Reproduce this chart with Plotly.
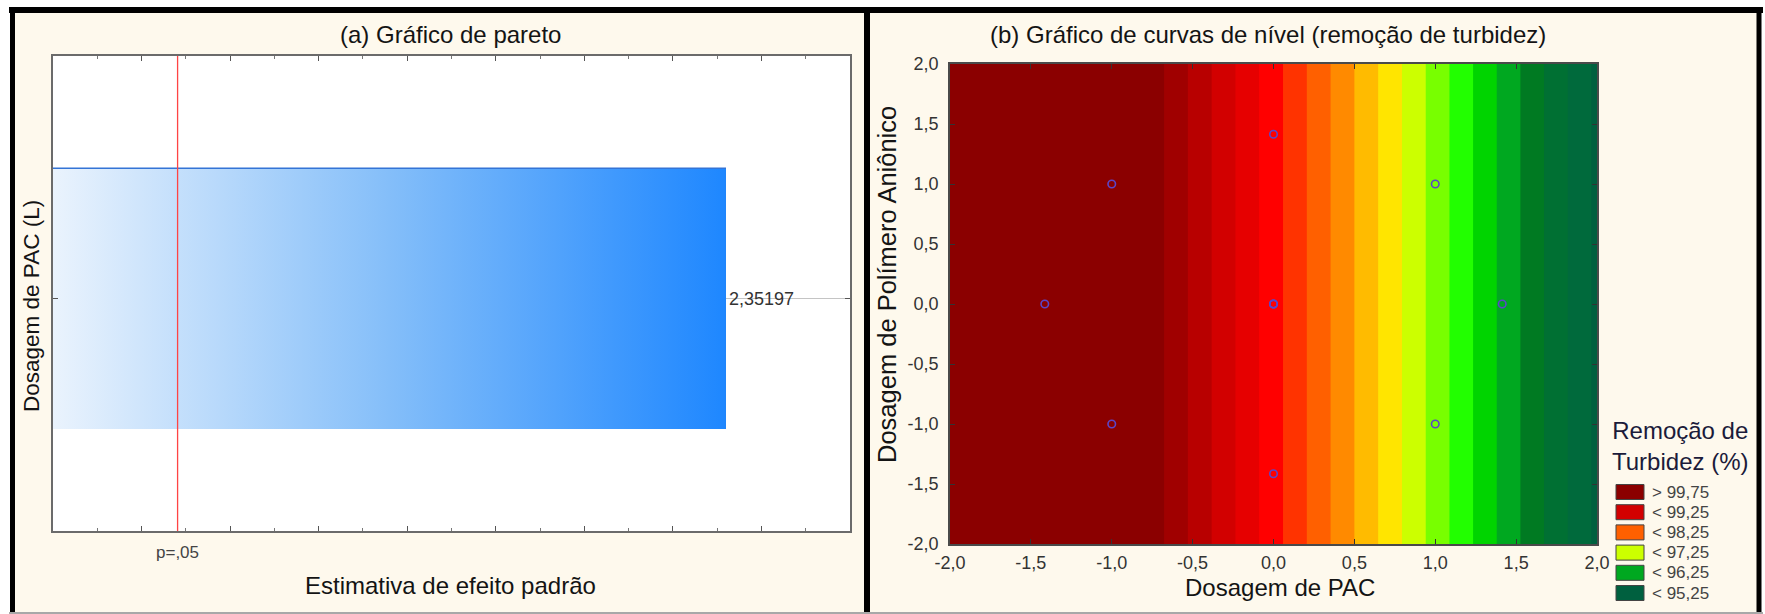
import plotly.graph_objects as go

W, H = 1765, 614
FONT = "Liberation Sans, Arial, sans-serif"
PANEL_BG = "#FEF9ED"

# ---- (a) Pareto chart of standardized effects ----
effect_names = ["Dosagem de PAC (L)"]
effect_values = [2.35197]
t_critical = 2.228139          # t(0.975; 10 df)
p_label = "p=,05"
pareto_x_range = [2.2, 2.38]

# ---- (b) contour plot: turbidity removal (%) ----
pac_dose = [-2.0, -1.0, 0.0, 1.0, 2.0]
polymer_dose = [-2.0, 2.0]
removal = [102.01, 100.30, 98.60, 96.90, 95.19]   # constant along polymer dose

design_pac = [-1.0, 1.0, -1.0, 1.0, -1.414, 1.414, 0.0, 0.0, 0.0, 0.0, 0.0]
design_polymer = [-1.0, -1.0, 1.0, 1.0, 0.0, 0.0, -1.414, 1.414, 0.0, 0.0, 0.0]

level_start, level_end, level_step = 95.25, 99.75, 0.25
# one colour per band, from the lowest (< 95,25) to the highest (> 99,75)
band_colors = [
    "#00603F", "#006A3C", "#007033", "#007A22", "#00A820", "#00D400",
    "#22FF00", "#78FF00", "#CCFF00", "#FFE500", "#FFBB00", "#FF8A00",
    "#FF6000", "#FF3300", "#FF0000", "#E60000", "#D20000", "#B80000",
    "#A00000", "#8B0000",
]
legend_labels = ["> 99,75", "< 99,25", "< 98,25", "< 97,25", "< 96,25", "< 95,25"]
legend_band_index = [19, 16, 12, 8, 4, 0]

axis_ticks = [-2.0, -1.5, -1.0, -0.5, 0.0, 0.5, 1.0, 1.5, 2.0]
axis_ticktext = ["-2,0", "-1,5", "-1,0", "-0,5", "0,0", "0,5", "1,0", "1,5", "2,0"]


def px(x):
    return x / W


def py(y):
    return 1 - y / H


fig = go.Figure()

# gradient body of the Pareto bar (from the axis start to the effect value)
x_lo = pareto_x_range[0]
bar_width = 1.095
for name, val in zip(effect_names, effect_values):
    fig.add_trace(go.Scatter(
        x=[x_lo, val, val, x_lo, x_lo],
        y=[-bar_width / 2, -bar_width / 2, bar_width / 2, bar_width / 2, -bar_width / 2],
        mode="lines", fill="toself", line=dict(width=0),
        fillgradient=dict(type="horizontal", start=x_lo, stop=val,
                          colorscale=[[0, "#EAF3FD"], [0.5, "#84BEF9"], [1, "#1E87FF"]]),
        hoverinfo="skip", showlegend=False, xaxis="x", yaxis="y",
    ))
fig.add_trace(go.Bar(
    x=effect_values, y=[0], orientation="h", width=bar_width,
    marker=dict(color="rgba(0,0,0,0)", line=dict(color="#3474D6", width=1.5)),
    hoverinfo="skip", showlegend=False, xaxis="x", yaxis="y",
))

# contour map
fig.add_trace(go.Contour(
    x=pac_dose, y=polymer_dose, z=[removal for _ in polymer_dose],
    autocontour=False,
    contours=dict(start=level_start, end=level_end, size=level_step,
                  coloring="fill", showlines=False),
    colorscale=[[k / (len(band_colors) - 1), c] for k, c in enumerate(band_colors)],
    line=dict(width=0), showscale=False, hoverinfo="skip",
    xaxis="x2", yaxis="y2",
))
fig.add_trace(go.Scatter(
    x=design_pac, y=design_polymer, mode="markers",
    marker=dict(symbol="circle-open", size=7.5, color="#5B46C8", line=dict(width=1.6)),
    hoverinfo="skip", showlegend=False, xaxis="x2", yaxis="y2",
))

shapes = [
    # white strips outside the frame
    dict(type="rect", xref="paper", yref="paper", x0=0, x1=1, y0=py(7), y1=1,
         fillcolor="#FFFFFF", line=dict(width=0), layer="below"),
    dict(type="rect", xref="paper", yref="paper", x0=0, x1=px(10), y0=0, y1=1,
         fillcolor="#FFFFFF", line=dict(width=0), layer="below"),
    dict(type="rect", xref="paper", yref="paper", x0=px(1761), x1=1, y0=0, y1=1,
         fillcolor="#FFFFFF", line=dict(width=0), layer="below"),
    # panel frame
    dict(type="line", xref="paper", yref="paper", x0=px(9), x1=px(1763), y0=py(10), y1=py(10),
         line=dict(color="#000000", width=6), layer="below"),
    dict(type="line", xref="paper", yref="paper", x0=px(12.5), x1=px(12.5), y0=py(614), y1=py(7),
         line=dict(color="#000000", width=5), layer="below"),
    dict(type="line", xref="paper", yref="paper", x0=px(867), x1=px(867), y0=py(614), y1=py(7),
         line=dict(color="#000000", width=6), layer="below"),
    dict(type="line", xref="paper", yref="paper", x0=px(1759), x1=px(1759), y0=py(614), y1=py(7),
         line=dict(color="#000000", width=5), layer="below"),
    dict(type="line", xref="paper", yref="paper", x0=px(9), x1=px(1763), y0=py(613), y1=py(613),
         line=dict(color="#A8A8A8", width=2), layer="below"),
    # p = 0.05 reference line
    dict(type="line", xref="x", yref="y domain", x0=t_critical, x1=t_critical, y0=0, y1=1,
         line=dict(color="#FF4444", width=1.3), layer="above"),
]

annotations = [
    dict(text="(a) Gráfico de pareto", x=px(450), y=py(34)),
    dict(text="(b) Gráfico de curvas de nível (remoção de turbidez)", x=px(1268), y=py(34)),
    dict(text="Estimativa de efeito padrão", x=px(450), y=py(585)),
    dict(text=effect_names[0], x=px(31), y=py(306), textangle=-90, size=22.5),
    dict(text="Dosagem de PAC", x=px(1280), y=py(587)),
    dict(text="Dosagem de Polímero Aniônico", x=px(887), y=py(285), textangle=-90, size=25.5),
    dict(text="Remoção de<br>Turbidez (%)", x=px(1680), y=py(446), color="#1B1B3A"),
]
annotations = [
    dict(text=a["text"], x=a["x"], y=a["y"], xref="paper", yref="paper",
         xanchor="center", yanchor="middle", showarrow=False,
         textangle=a.get("textangle", 0),
         font=dict(family=FONT, size=a.get("size", 24), color=a.get("color", "#141414")))
    for a in annotations
]
# effect value label and p-level label
for val in effect_values:
    annotations.append(dict(
        text=f"{val:.5f}".replace(".", ","), x=val, y=0, xref="x", yref="y",
        xanchor="left", yanchor="middle", xshift=1, showarrow=False,
        font=dict(family=FONT, size=18, color="#333333")))
annotations.append(dict(
    text=p_label, x=t_critical, y=py(552), xref="x", yref="paper",
    xanchor="center", yanchor="middle", showarrow=False,
    font=dict(family=FONT, size=17, color="#444444")))

# contour legend
for i, (lab, idx) in enumerate(zip(legend_labels, legend_band_index)):
    yc = 492 + i * 20.2
    shapes.append(dict(type="rect", xref="paper", yref="paper",
                       x0=px(1616), x1=px(1644), y0=py(yc + 7.5), y1=py(yc - 7.5),
                       fillcolor=band_colors[idx], line=dict(color="#444444", width=1)))
    annotations.append(dict(text=lab, x=px(1650), y=py(yc), xref="paper", yref="paper",
                            xanchor="left", yanchor="middle", showarrow=False,
                            font=dict(family=FONT, size=17, color="#444444")))

fig.update_layout(
    width=W, height=H, margin=dict(l=0, r=0, t=0, b=0, autoexpand=False),
    paper_bgcolor=PANEL_BG, plot_bgcolor="#FFFFFF",
    showlegend=False, bargap=0,
    font=dict(family=FONT, color="#333333"),
    shapes=shapes, annotations=annotations,
    xaxis=dict(domain=[px(53), px(850)], anchor="y", range=pareto_x_range,
               tick0=2.2, dtick=0.02, ticks="inside", ticklen=5, tickcolor="#555555",
               minor=dict(dtick=0.01, ticks="inside", ticklen=3, tickcolor="#777777"),
               showticklabels=False, showgrid=False, zeroline=False,
               showline=True, linecolor="#6B6B6B", linewidth=1.5, mirror="ticks"),
    yaxis=dict(domain=[py(531), py(56)], anchor="x", range=[-0.977, 1.023],
               tickvals=[0], ticks="inside", ticklen=5, tickcolor="#555555",
               showticklabels=False, showgrid=True, gridcolor="#C4C4C4", gridwidth=1,
               zeroline=False, showline=True, linecolor="#6B6B6B", linewidth=1.5, mirror="ticks"),
    xaxis2=dict(domain=[px(950), px(1597)], anchor="y2", range=[-2, 2],
                tickvals=axis_ticks, ticktext=axis_ticktext, ticks="inside", ticklen=5,
                tickcolor="#333333", tickfont=dict(size=18, color="#333333"),
                ticklabelstandoff=2,
                showgrid=False, zeroline=False, showline=True, linecolor="#4A4A4A",
                linewidth=1.5, mirror="ticks"),
    yaxis2=dict(domain=[py(544), py(64)], anchor="x2", range=[-2, 2],
                tickvals=axis_ticks, ticktext=axis_ticktext, ticks="inside", ticklen=5,
                tickcolor="#333333", tickfont=dict(size=18, color="#333333"),
                ticklabelstandoff=6,
                showgrid=False, zeroline=False, showline=True, linecolor="#4A4A4A",
                linewidth=1.5, mirror="ticks"),
)

# page without body margin so the figure fills the window exactly
fig.write_html("out.html",
               post_script="document.body.style.margin='0';document.body.style.overflow='hidden';")
